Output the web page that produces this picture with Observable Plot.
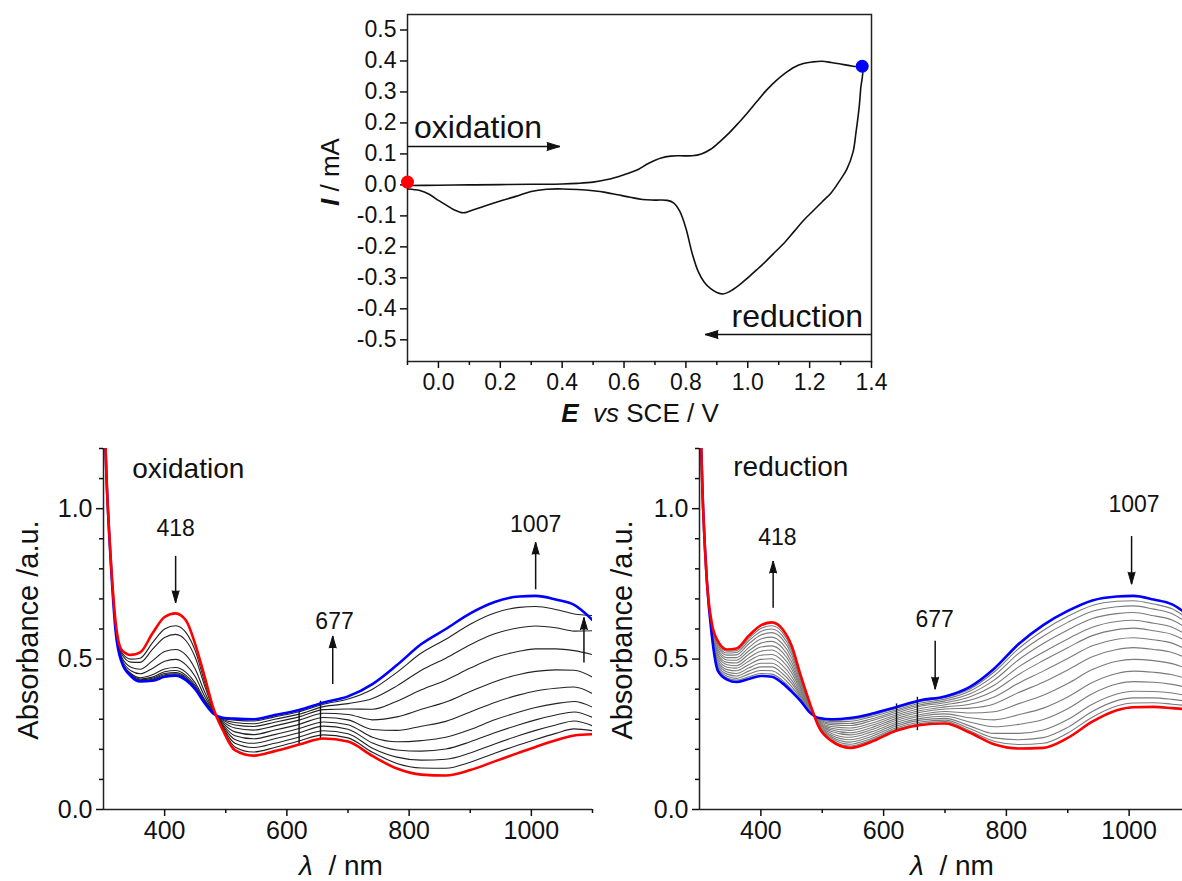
<!DOCTYPE html>
<html><head><meta charset="utf-8">
<script src="https://cdn.jsdelivr.net/npm/d3@7"></script>
<script src="https://cdn.jsdelivr.net/npm/@observablehq/plot@0.6"></script>
<style>
html,body{margin:0;padding:0;background:#fff;}
#page{position:relative;width:1182px;height:881px;overflow:hidden;background:#fff;font-family:"Liberation Sans",Arial,sans-serif;color:#111;}
.lbl{position:absolute;white-space:nowrap;line-height:1;transform:translate(-50%,-50%);}
.rot{transform:translate(-50%,-50%) rotate(-90deg);}
</style></head><body><div id="page"></div>
<script>
// ---------- Cyclic voltammogram ----------
const cvE = [-0.1, 0.0, 0.1, 0.2, 0.3, 0.4, 0.45, 0.5, 0.55, 0.6, 0.64, 0.68, 0.72, 0.75, 0.78, 0.82, 0.85, 0.88, 0.91, 0.94, 0.97, 1.0, 1.03, 1.06, 1.09, 1.12, 1.15, 1.18, 1.21, 1.24, 1.27, 1.3, 1.33, 1.35, 1.37,
  1.365, 1.36, 1.35, 1.34, 1.32, 1.3, 1.27, 1.24, 1.21, 1.18, 1.15, 1.12, 1.09, 1.06, 1.03, 1.0, 0.97, 0.94, 0.92, 0.9, 0.88, 0.86, 0.84, 0.82, 0.8, 0.78, 0.76, 0.74, 0.7, 0.66, 0.62, 0.58, 0.54, 0.5, 0.45, 0.4, 0.35, 0.3, 0.25, 0.2, 0.15, 0.1, 0.08, 0.05, 0.02, 0.0, -0.03, -0.06, -0.1];
const cvI = [-0.002, -0.001, 0.0, 0.001, 0.002, 0.003, 0.005, 0.009, 0.018, 0.033, 0.047, 0.07, 0.087, 0.093, 0.094, 0.094, 0.1, 0.115, 0.14, 0.168, 0.2, 0.234, 0.27, 0.305, 0.335, 0.36, 0.38, 0.392, 0.397, 0.399, 0.395, 0.39, 0.385, 0.382, 0.383,
  0.31, 0.25, 0.17, 0.105, 0.05, 0.018, -0.025, -0.055, -0.085, -0.115, -0.15, -0.185, -0.215, -0.245, -0.273, -0.3, -0.325, -0.345, -0.352, -0.347, -0.335, -0.315, -0.28, -0.22, -0.14, -0.085, -0.058, -0.05, -0.049, -0.047, -0.04, -0.032, -0.024, -0.019, -0.015, -0.013, -0.014, -0.021, -0.037, -0.052, -0.068, -0.085, -0.09, -0.08, -0.062, -0.05, -0.03, -0.018, -0.013];
const cvDotE = [-0.1, 1.37];
const cvDotI = [0.009, 0.383];
const cvDotColor = ["#ff0000", "#0000ff"];
const cvYTicks = [-0.5, -0.4, -0.3, -0.2, -0.1, 0.0, 0.1, 0.2, 0.3, 0.4, 0.5];
const cvXTicks = [0.0, 0.2, 0.4, 0.6, 0.8, 1.0, 1.2, 1.4];
const cvXMinor = [-0.1, 0.1, 0.3, 0.5, 0.7, 0.9, 1.1, 1.3];
const cvArrowFrom = [-0.1, 1.4];
const cvArrowTo = [0.393, 0.862];
const cvArrowI = [0.124, -0.483];
const cvArrowRot = [90, -90];
const cvText = ["oxidation", "reduction"];
const cvTextE = [-0.079, 1.373];
const cvTextI = [0.185, -0.425];

// ---------- Spectra ----------
const spectraNm = [300, 305, 312, 320, 330, 345, 360, 380, 400, 418, 435, 450, 465, 480, 495, 515, 545, 580, 620, 660, 700, 740, 780, 820, 860, 900, 940, 980, 1007, 1040, 1070, 1100];

const oxRed = [1.40, 1.10, 0.83, 0.62, 0.53, 0.514, 0.522, 0.585, 0.64, 0.652, 0.628, 0.55, 0.445, 0.335, 0.265, 0.197, 0.179, 0.194, 0.216, 0.236, 0.226, 0.178, 0.136, 0.116, 0.113, 0.131, 0.16, 0.189, 0.208, 0.23, 0.246, 0.25];
const oxBlue = [1.40, 1.10, 0.82, 0.59, 0.488, 0.443, 0.426, 0.428, 0.441, 0.445, 0.43, 0.40, 0.355, 0.318, 0.305, 0.302, 0.30, 0.314, 0.331, 0.356, 0.376, 0.417, 0.48, 0.55, 0.60, 0.652, 0.69, 0.708, 0.71, 0.698, 0.68, 0.63];
const oxSteps = [
  [1.40, 1.10, 0.825, .614, .522, .50, .503, .554, .60, .611, .588, .528, .427, .333, .269, .208, .191, .206, .228, .248, .238, .19, .153, .138, .137, .157, .187, .215, .233, .253, .268, .262],
  [1.40, 1.10, 0.825, .61, .516, .49, .489, .532, .572, .582, .561, .506, .414, .331, .274, .22, .206, .22, .241, .262, .252, .204, .174, .164, .167, .188, .218, .246, .263, .281, .294, .278],
  [1.40, 1.10, 0.825, .603, .506, .473, .466, .494, .525, .532, .513, .467, .393, .329, .279, .233, .22, .235, .255, .277, .267, .221, .198, .194, .201, .225, .255, .282, .298, .314, .324, .306],
  [1.40, 1.10, 0.825, .598, .499, .461, .451, .469, .493, .499, .481, .442, .378, .327, .283, .245, .235, .249, .269, .291, .282, .24, .225, .229, .24, .266, .298, .324, .339, .352, .359, .34],
  [1.40, 1.10, 0.825, .594, .493, .452, .438, .448, .467, .472, .456, .421, .367, .325, .288, .258, .249, .264, .283, .306, .298, .266, .263, .277, .293, .324, .356, .381, .394, .403, .407, .385],
  [1.40, 1.10, 0.825, .592, .491, .449, .434, .44, .458, .462, .446, .413, .362, .323, .293, .271, .264, .278, .297, .32, .316, .298, .308, .333, .357, .392, .425, .449, .459, .464, .463, .44],
  [1.40, 1.10, 0.825, .591, .49, .447, .431, .436, .452, .455, .44, .408, .36, .321, .297, .281, .276, .29, .308, .332, .334, .333, .36, .398, .43, .47, .505, .526, .534, .534, .528, .515],
  [1.40, 1.10, 0.825, .591, .489, .445, .429, .433, .448, .451, .436, .405, .358, .32, .30, .289, .285, .30, .317, .342, .352, .369, .411, .463, .503, .548, .584, .604, .61, .604, .593, .594],
  [1.40, 1.10, 0.825, .59, .489, .444, .427, .43, .444, .448, .433, .402, .356, .319, .303, .297, .294, .308, .325, .35, .367, .40, .456, .52, .566, .616, .653, .672, .675, .665, .65, .645]
];
const oxLabels = ["418", "677", "1007"];
const oxLabelNm = [418, 678, 1007];
const oxLabelA = [0.932, 0.624, 0.947];
const oxArrowNm = [418, 675, 1007, 1086];
const oxArrowFrom = [0.843, 0.417, 0.732, 0.489];
const oxArrowTo = [0.687, 0.577, 0.888, 0.638];
const oxGlitchNm = [620, 655];
const oxGlitchLo = [0.215, 0.233];
const oxGlitchHi = [0.332, 0.36];

const redRed = [1.40, 1.05, 0.76, 0.62, 0.56, 0.532, 0.535, 0.577, 0.612, 0.622, 0.60, 0.545, 0.445, 0.352, 0.272, 0.228, 0.205, 0.225, 0.262, 0.281, 0.286, 0.256, 0.217, 0.203, 0.205, 0.238, 0.292, 0.33, 0.34, 0.341, 0.337, 0.332];
const redBlue = [1.40, 1.05, 0.76, 0.58, 0.461, 0.432, 0.424, 0.434, 0.444, 0.441, 0.42, 0.392, 0.36, 0.322, 0.304, 0.30, 0.304, 0.318, 0.34, 0.363, 0.376, 0.407, 0.468, 0.55, 0.613, 0.66, 0.695, 0.708, 0.71, 0.698, 0.682, 0.64];
const redSteps = [
  [1.40,1.05,0.76,.582,.466,.437,.43,.441,.452,.45,.429,.40,.364,.324,.302,.296,.299,.313,.336,.359,.372,.40,.457,.535,.595,.642,.678,.692,.694,.683,.667,.627],
  [1.40,1.05,0.76,.584,.472,.443,.436,.45,.462,.461,.44,.409,.369,.325,.30,.292,.293,.308,.331,.354,.367,.393,.445,.519,.576,.622,.659,.674,.677,.666,.651,.612],
  [1.40,1.05,0.76,.587,.479,.45,.444,.46,.474,.474,.452,.42,.375,.327,.298,.287,.286,.301,.326,.348,.361,.384,.43,.498,.552,.597,.635,.651,.655,.644,.63,.594],
  [1.40,1.05,0.76,.59,.486,.457,.452,.47,.486,.486,.465,.43,.381,.33,.296,.282,.279,.295,.32,.343,.355,.374,.413,.474,.523,.567,.606,.625,.629,.619,.606,.572],
  [1.40,1.05,0.76,.593,.494,.465,.461,.481,.499,.501,.479,.442,.388,.332,.293,.276,.271,.287,.314,.336,.348,.363,.395,.449,.495,.538,.578,.598,.603,.594,.582,.551],
  [1.40,1.05,0.76,.596,.502,.473,.47,.493,.513,.515,.494,.455,.395,.334,.291,.27,.263,.28,.308,.329,.341,.35,.374,.42,.46,.502,.544,.566,.571,.564,.553,.524],
  [1.40,1.05,0.76,.60,.51,.481,.478,.504,.526,.53,.508,.467,.402,.337,.288,.265,.255,.272,.302,.323,.334,.337,.351,.389,.423,.464,.508,.532,.538,.532,.522,.497],
  [1.40,1.05,0.76,.603,.517,.489,.487,.516,.54,.544,.523,.479,.408,.339,.286,.259,.248,.265,.296,.316,.326,.321,.325,.352,.38,.419,.465,.493,.499,.495,.485,.464],
  [1.40,1.05,0.76,.606,.525,.497,.496,.527,.553,.559,.537,.491,.415,.342,.283,.253,.24,.258,.289,.31,.318,.305,.298,.315,.337,.374,.422,.452,.46,.456,.448,.431],
  [1.40,1.05,0.76,.609,.533,.505,.505,.538,.567,.573,.551,.504,.422,.344,.281,.247,.232,.25,.283,.303,.31,.291,.275,.283,.299,.335,.385,.417,.425,.423,.416,.403],
  [1.40,1.05,0.76,.612,.541,.513,.514,.55,.58,.588,.566,.516,.429,.346,.278,.242,.224,.243,.277,.297,.303,.278,.253,.253,.264,.299,.35,.384,.393,.392,.387,.376],
  [1.40,1.05,0.76,.615,.548,.52,.522,.56,.592,.60,.578,.527,.435,.348,.276,.237,.217,.236,.271,.291,.297,.269,.238,.232,.239,.273,.326,.362,.371,.371,.366,.358],
  [1.40,1.05,0.76,.618,.554,.526,.528,.568,.602,.611,.589,.536,.44,.35,.274,.232,.211,.231,.267,.286,.292,.262,.227,.216,.22,.254,.307,.344,.354,.355,.35,.344]
];
const redLabels = ["418", "677", "1007"];
const redLabelNm = [427, 683, 1008];
const redLabelA = [0.903, 0.63, 1.015];
const redArrowNm = [420, 684, 1004];
const redArrowFrom = [0.671, 0.561, 0.909];
const redArrowTo = [0.826, 0.40, 0.749];
const redGlitchNm = [621, 655];
const redGlitchLo = [0.257, 0.262];
const redGlitchHi = [0.351, 0.373];

const absMajor = [0, 0.5, 1.0];
const absMinor = [0.1, 0.2, 0.3, 0.4, 0.6, 0.7, 0.8, 0.9, 1.1, 1.2];
const nmMajor = [400, 600, 800, 1000];
const nmMinor = [500, 700, 900, 1100];

const FONT = "'Liberation Sans', Arial, Helvetica, sans-serif";
const INK = "#111";

// ---------- Top: CV ----------
const cvRows = cvE.map((e, i) => ({E: e, I: cvI[i]}));
const idx2 = [0, 1];
const topChart = Plot.plot({
  width: 1182, height: 430,
  marginLeft: 407, marginRight: 311, marginTop: 14, marginBottom: 69,
  x: {domain: [-0.1, 1.4]},
  y: {domain: [-0.57, 0.55]},
  style: {fontFamily: FONT, fontSize: "23px", color: INK, background: "none", overflow: "visible"},
  marks: [
    Plot.frame({stroke: "#222", strokeWidth: 1.5}),
    Plot.axisY({ticks: cvYTicks, tickSize: 7, tickPadding: 4, tickFormat: d => d.toFixed(1), fontSize: 23, strokeWidth: 1.5, label: null}),
    Plot.axisX({ticks: cvXTicks, tickSize: 7, tickPadding: 5, tickFormat: d => d.toFixed(1), fontSize: 23, strokeWidth: 1.5, label: null}),
    Plot.axisX({ticks: cvXMinor, tickSize: 4, tickFormat: () => "", strokeWidth: 1.5, label: null}),
    Plot.line(cvRows, {x: "E", y: "I", curve: "catmull-rom", stroke: INK, strokeWidth: 1.6}),
    Plot.link(idx2, {x1: i => cvArrowFrom[i], x2: i => cvArrowTo[i], y1: i => cvArrowI[i], y2: i => cvArrowI[i], stroke: INK, strokeWidth: 1.5}),
    Plot.vector(idx2, {x: i => cvArrowTo[i], y: i => cvArrowI[i], rotate: i => cvArrowRot[i], length: 13, r: 4, shape: "spike", anchor: "end", fill: INK, stroke: INK, strokeWidth: 1}),
    Plot.text([0], {x: () => cvTextE[0], y: () => cvTextI[0], text: () => cvText[0], textAnchor: "start", fontSize: 32, fill: INK}),
    Plot.text([1], {x: () => cvTextE[1], y: () => cvTextI[1], text: () => cvText[1], textAnchor: "end", fontSize: 32, fill: INK}),
    Plot.dot(idx2, {x: i => cvDotE[i], y: i => cvDotI[i], r: 6.5, fill: i => cvDotColor[i], stroke: null})
  ]
});

// ---------- Bottom spectra ----------
function spectraPanel(o) {
  const ai = o.arrowNm.map((d, i) => i);
  const li = o.labels.map((d, i) => i);
  const gi = o.glitchNm.map((d, i) => i);
  return Plot.plot({
    width: 600, height: 451,
    marginLeft: o.ml, marginRight: o.mr, marginTop: 18, marginBottom: 72,
    x: {domain: [300, 1100]},
    y: {domain: [0, 1.2]},
    style: {fontFamily: FONT, fontSize: "25px", color: INK, background: "none", overflow: "visible"},
    marks: [
      ...o.steps.map(s => Plot.line(spectraNm, {x: spectraNm, y: s, curve: "monotone-x", stroke: o.stepColor, strokeWidth: 1.1, clip: true})),
      Plot.ruleX(gi, {x: i => o.glitchNm[i], y1: i => o.glitchLo[i], y2: i => o.glitchHi[i], stroke: INK, strokeWidth: 1.4}),
      Plot.line(spectraNm, {x: spectraNm, y: o.blue, curve: "monotone-x", stroke: "#0000ff", strokeWidth: 2.6, clip: true}),
      Plot.line(spectraNm, {x: spectraNm, y: o.red, curve: "monotone-x", stroke: "#ff0000", strokeWidth: 2.6, clip: true}),
      Plot.ruleX([300], {y1: 0, y2: 1.2, stroke: "#222", strokeWidth: 1.5}),
      Plot.ruleY([0], {x1: 300, x2: 1100, stroke: "#222", strokeWidth: 1.5}),
      Plot.axisY({ticks: absMajor, tickSize: 7, tickPadding: 4, tickFormat: d => d.toFixed(1), fontSize: 25, strokeWidth: 1.5, label: null}),
      Plot.axisY({ticks: absMinor, tickSize: 4, tickFormat: () => "", strokeWidth: 1.5, label: null}),
      Plot.axisX({ticks: nmMajor, tickSize: 7, tickPadding: 5, tickFormat: d => String(d), fontSize: 25, strokeWidth: 1.5, label: null}),
      Plot.axisX({ticks: nmMinor, tickSize: 4, tickFormat: () => "", strokeWidth: 1.5, label: null}),
      Plot.link(ai, {x1: i => o.arrowNm[i], x2: i => o.arrowNm[i], y1: i => o.arrowFrom[i], y2: i => o.arrowTo[i], stroke: INK, strokeWidth: 1.5}),
      Plot.vector(ai, {x: i => o.arrowNm[i], y: i => o.arrowTo[i], rotate: i => (o.arrowTo[i] > o.arrowFrom[i] ? 0 : 180), length: 12, r: 3.5, shape: "spike", anchor: "end", fill: INK, stroke: INK, strokeWidth: 1}),
      Plot.text(li, {x: i => o.labelNm[i], y: i => o.labelA[i], text: i => o.labels[i], fontSize: 23, fill: INK}),
      Plot.text([o.title], {x: o.titleNm, y: o.titleA, textAnchor: "start", fontSize: 28, fill: INK})
    ]
  });
}

const leftChart = spectraPanel({
  ml: 103, mr: 8, red: oxRed, blue: oxBlue, steps: oxSteps, stepColor: "#222",
  labels: oxLabels, labelNm: oxLabelNm, labelA: oxLabelA,
  arrowNm: oxArrowNm, arrowFrom: oxArrowFrom, arrowTo: oxArrowTo,
  glitchNm: oxGlitchNm, glitchLo: oxGlitchLo, glitchHi: oxGlitchHi,
  title: "oxidation", titleNm: 347, titleA: 1.133
});
const rightChart = spectraPanel({
  ml: 99, mr: 10, red: redRed, blue: redBlue, steps: redSteps, stepColor: "#7a7a7a",
  labels: redLabels, labelNm: redLabelNm, labelA: redLabelA,
  arrowNm: redArrowNm, arrowFrom: redArrowFrom, arrowTo: redArrowTo,
  glitchNm: redGlitchNm, glitchLo: redGlitchLo, glitchHi: redGlitchHi,
  title: "reduction", titleNm: 355, titleA: 1.14
});

const page = document.getElementById("page");
function put(el, left, top) {
  el.style.position = "absolute";
  el.style.left = left + "px";
  el.style.top = top + "px";
  page.appendChild(el);
}
put(topChart, 0, 0);
put(leftChart, 0, 430);
put(rightChart, 600, 430);

function label(html, cx, cy, size, rotated) {
  const d = document.createElement("div");
  d.className = "lbl" + (rotated ? " rot" : "");
  d.style.left = cx + "px";
  d.style.top = cy + "px";
  d.style.fontSize = size + "px";
  d.innerHTML = html;
  page.appendChild(d);
}
label('<b><i>I</i></b> / mA', 330, 172, 26, true);
label('<b><i>E</i></b>&nbsp; <i>vs</i> SCE / V', 640, 413, 26, false);
label('Absorbance /a.u.', 28, 630, 29, true);
label('Absorbance /a.u.', 622, 630, 29, true);
label('<i>λ</i>&nbsp; / nm', 341, 866, 28, false);
label('<i>λ</i>&nbsp; / nm', 952, 866, 28, false);
</script></body></html>
